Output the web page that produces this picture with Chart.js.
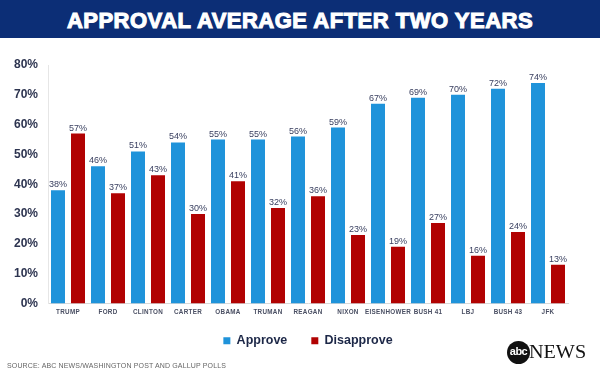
<!DOCTYPE html>
<html>
<head>
<meta charset="utf-8">
<script src="https://cdn.jsdelivr.net/npm/chart.js@4"></script>
<style>
  html, body { margin: 0; padding: 0; background: #fff; }
  #wrap { position: relative; width: 600px; height: 375px; overflow: hidden; }
  #banner {
    position: absolute; left: 0; top: 0; width: 600px; height: 38px;
    background: #0c2e76; color: #fff; text-align: center;
    font: bold 22px "Liberation Sans", Arial, sans-serif; line-height: 41px;
    letter-spacing: 0.5px; -webkit-text-stroke: 1.1px #fff; z-index: 2;
  }
  #source {
    position: absolute; left: 7px; top: 362px;
    font: 7px "Liberation Sans", Arial, sans-serif; letter-spacing: 0.15px;
    color: #666; z-index: 2;
  }
  #logo { position: absolute; left: 507px; top: 341px; height: 24px; z-index: 2; }
  #logo .dot {
    position: absolute; left: 0; top: 0; width: 23px; height: 23px; border-radius: 50%;
    background: #111; color: #fff; text-align: center;
    font: bold 11px "Liberation Sans", Arial, sans-serif; line-height: 21px; letter-spacing: -0.5px;
  }
  #logo .news {
    position: absolute; left: 22px; top: 1px; transform: scaleX(1.12); transform-origin: left;
    font: 18px "Liberation Serif", "DejaVu Serif", serif; color: #111;
  }
  canvas { position: absolute; left: 0; top: 0; }
</style>
</head>
<body>
<div id="wrap">
  <div id="banner">APPROVAL AVERAGE AFTER TWO YEARS</div>
  <canvas id="myChart" width="600" height="375"></canvas>
  <div id="source">SOURCE: ABC NEWS/WASHINGTON POST AND GALLUP POLLS</div>
  <div id="logo"><div class="dot">abc</div><div class="news">NEWS</div></div>
</div>
<script>
const presidents = ["TRUMP", "FORD", "CLINTON", "CARTER", "OBAMA", "TRUMAN", "REAGAN",
  "NIXON", "EISENHOWER", "BUSH 41", "LBJ", "BUSH 43", "JFK"];
const approve = [38, 46, 51, 54, 55, 55, 56, 59, 67, 69, 70, 72, 74];
const disapprove = [57, 37, 43, 30, 41, 32, 36, 23, 19, 27, 16, 24, 13];
const yTicks = [0, 10, 20, 30, 40, 50, 60, 70, 80];

const blue = "#1f93da";
const red = "#b10202";
const ink = "#2d3450";

// x labels: slight letter spacing, and not clipped to the (squeezed) axis box
const spacedX = {
  id: "spacedX",
  afterUpdate(chart) {
    const sx = chart.scales.x;
    if (sx._spaced) return;
    const orig = sx.drawLabels.bind(sx);
    sx._computeLabelArea = () => undefined;
    sx.drawLabels = function (area) {
      const c = this.ctx;
      c.save();
      c.letterSpacing = "0.3px";
      orig(area);
      c.restore();
    };
    sx._spaced = true;
  },
};

const valueLabels = {
  id: "valueLabels",
  afterDatasetsDraw(chart) {
    const ctx = chart.ctx;
    ctx.save();
    ctx.font = "9px 'Liberation Sans', Arial, sans-serif";
    ctx.fillStyle = "#3a4060";
    ctx.textAlign = "center";
    ctx.textBaseline = "bottom";
    chart.data.datasets.forEach((ds, i) => {
      chart.getDatasetMeta(i).data.forEach((bar, j) => {
        ctx.fillText(ds.data[j] + "%", bar.x, bar.y - 1);
      });
    });
    ctx.restore();
  },
};

new Chart(document.getElementById("myChart"), {
  type: "bar",
  data: {
    labels: presidents,
    datasets: [
      { label: "Approve", data: approve, backgroundColor: blue },
      { label: "Disapprove", data: disapprove, backgroundColor: red },
    ],
  },
  options: {
    responsive: false,
    animation: false,
    devicePixelRatio: 1,
    layout: { padding: { top: 65, right: 32, bottom: 18, left: 0 } },
    datasets: { bar: { categoryPercentage: 1, barPercentage: 0.7 } },
    plugins: {
      tooltip: { enabled: false },
      legend: {
        position: "bottom",
        fullSize: false,
        labels: {
          boxWidth: 7, boxHeight: 7, padding: 24,
          color: "#1c2747",
          font: { family: "'Liberation Sans', Arial, sans-serif", size: 12.5, weight: "bold" },
        },
      },
    },
    scales: {
      x: {
        afterFit(s) { s.height = 7; },
        grid: { display: false, drawTicks: false },
        border: { display: true, color: "#d8d8d8" },
        ticks: {
          color: "#4a4f63", padding: 5, maxRotation: 0, autoSkip: false,
          font: { family: "'Liberation Sans', Arial, sans-serif", size: 6.3, weight: "bold" },
        },
      },
      y: {
        min: 0, max: 80,
        afterFit(s) { s.width = 48; },
        afterBuildTicks(s) { s.ticks = yTicks.map(v => ({ value: v })); },
        grid: { display: false, drawTicks: false },
        border: { display: true, color: "#e6e6e6" },
        ticks: {
          color: ink, padding: 10,
          font: { family: "'Liberation Sans', Arial, sans-serif", size: 12, weight: "bold" },
          callback: v => v + "%",
        },
      },
    },
  },
  plugins: [spacedX, valueLabels],
});
</script>
</body>
</html>
